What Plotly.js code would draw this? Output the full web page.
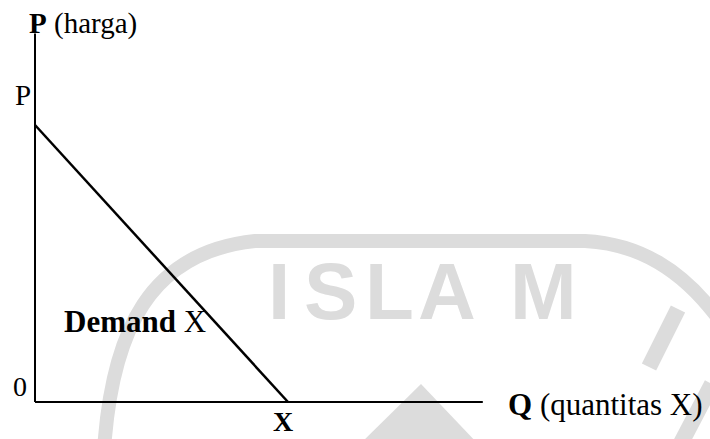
<!DOCTYPE html>
<html>
<head>
<meta charset="utf-8">
<script src="https://cdn.plot.ly/plotly-3.0.1.min.js"></script>
<style>
  html, body { margin: 0; padding: 0; background: #ffffff; }
  #chart { width: 710px; height: 439px; }
</style>
</head>
<body>
<div id="chart"></div>
<script>
// Linear demand curve for good X: price intercept P, quantity intercept X
const demandQ = [0, 10];
const demandP = [10, 0];

// Extent of the drawn price (vertical) and quantity (horizontal) axes
const axisTopP = 13.3;
const axisEndQ = 17.7;

// Axis and curve labels
const priceAxisLabel = "<b>P</b> (harga)";
const qtyAxisLabel = "<b>Q</b> (quantitas X)";
const priceInterceptLabel = "P";
const qtyInterceptLabel = "<b>X</b>";
const originLabel = "0";
const curveLabel = "<b>Demand</b> X";

// Faint background watermark lettering
const watermarkLetters = ["I", "S", "L", "A", "M"];
const watermarkX = [279, 330, 389, 447, 543];

const W = 710, H = 439;
const fx = px => px / W;
const fy = py => 1 - py / H;

const serif = "Liberation Serif, Times New Roman, serif";
const ink = "#000000";
const wmColor = "#dcdcdc";

const traces = [
  { // vertical price axis
    x: [0, 0], y: [0, axisTopP], mode: "lines",
    line: { color: ink, width: 2 }, hoverinfo: "skip", showlegend: false
  },
  { // horizontal quantity axis
    x: [0, axisEndQ], y: [0, 0], mode: "lines",
    line: { color: ink, width: 2 }, hoverinfo: "skip", showlegend: false
  },
  { // demand curve
    x: demandQ, y: demandP, mode: "lines",
    line: { color: ink, width: 2.5 }, hoverinfo: "skip", showlegend: false
  }
];

// Watermark ring and strokes, drawn beneath everything in page coordinates
function pathFromPx(cmds) {
  return cmds.map(c => {
    const [op, ...pts] = c;
    const parts = [];
    for (let i = 0; i < pts.length; i += 2) parts.push(fx(pts[i]) + "," + fy(pts[i + 1]));
    return op + " " + parts.join(" ");
  }).join(" ");
}
const ringPath = pathFromPx([
  ["M", 104, 450],
  ["C", 112, 330, 150, 252, 255, 241],
  ["L", 585, 241],
  ["C", 640, 244, 682, 270, 718, 318]
]);

const shapes = [
  { type: "path", xref: "paper", yref: "paper", layer: "below",
    path: ringPath, line: { color: wmColor, width: 14 } },
  { type: "line", xref: "paper", yref: "paper", layer: "below",
    x0: fx(678), y0: fy(309), x1: fx(649), y1: fy(367),
    line: { color: wmColor, width: 16 } },
  { type: "line", xref: "paper", yref: "paper", layer: "below",
    x0: fx(712), y0: fy(384), x1: fx(680), y1: fy(445),
    line: { color: wmColor, width: 16 } },
  { type: "path", xref: "paper", yref: "paper", layer: "below",
    path: pathFromPx([["M", 421, 384], ["L", 479, 445], ["L", 359, 445], ["Z"]]),
    fillcolor: wmColor, line: { width: 0 } }
];

const annotations = [];
watermarkLetters.forEach((ch, i) => {
  annotations.push({
    text: ch, xref: "paper", yref: "paper",
    x: fx(watermarkX[i]), y: fy(291), xanchor: "center", yanchor: "middle",
    showarrow: false, borderpad: 0,
    font: { family: "Liberation Sans, Arial, sans-serif", size: 80, color: wmColor, weight: "bold" }
  });
});

const label = (text, x, y, opts) => Object.assign({
  text, x, y, xref: "x", yref: "y", showarrow: false, borderpad: 0,
  font: { family: serif, size: 30, color: ink }
}, opts);

annotations.push(
  label(priceAxisLabel, 0, axisTopP, { xanchor: "left", yanchor: "middle", xshift: -7, yshift: 10,
    font: { family: serif, size: 29, color: ink } }),
  label(priceInterceptLabel, 0, demandP[0], { xanchor: "right", yanchor: "middle", xshift: -3, yshift: 30,
    font: { family: serif, size: 29, color: ink } }),
  label(originLabel, 0, 0, { xanchor: "right", yanchor: "middle", xshift: -7, yshift: 16,
    font: { family: serif, size: 28, color: ink } }),
  label(qtyInterceptLabel, demandQ[1], 0, { xanchor: "center", yanchor: "bottom", xshift: -5, yshift: -36,
    font: { family: serif, size: 28, color: ink } }),
  label(curveLabel, 6.8, 2.89, { xanchor: "right", yanchor: "middle",
    font: { family: serif, size: 31, color: ink } }),
  label(qtyAxisLabel, axisEndQ, 0, { xanchor: "left", yanchor: "middle", xshift: 24, yshift: -2,
    font: { family: serif, size: 31, color: ink } })
);

const layout = {
  width: W, height: H,
  margin: { l: 0, r: 0, t: 0, b: 0, pad: 0 },
  paper_bgcolor: "#ffffff", plot_bgcolor: "#ffffff",
  xaxis: { range: [-1.3834, 26.680], visible: false, fixedrange: true },
  yaxis: { range: [-1.3357, 14.5126], visible: false, fixedrange: true },
  shapes, annotations, showlegend: false
};

Plotly.newPlot("chart", traces, layout, { staticPlot: true, displayModeBar: false });
</script>
</body>
</html>
